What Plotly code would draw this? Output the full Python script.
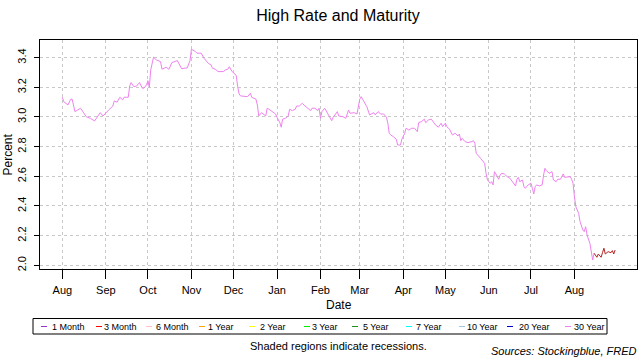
import plotly.graph_objects as go

# ---------------- data ----------------
dates_30y = [
    "2018-08-01", "2018-08-02", "2018-08-05", "2018-08-07", "2018-08-08", "2018-08-10", "2018-08-14",
    "2018-08-16", "2018-08-18", "2018-08-21", "2018-08-24", "2018-08-28", "2018-08-30",
    "2018-09-03", "2018-09-06", "2018-09-07", "2018-09-09", "2018-09-11", "2018-09-13", "2018-09-14",
    "2018-09-17", "2018-09-18", "2018-09-19", "2018-09-21", "2018-09-23", "2018-09-25", "2018-09-27",
    "2018-09-28", "2018-09-30",
    "2018-10-01", "2018-10-02", "2018-10-03", "2018-10-05", "2018-10-07", "2018-10-10", "2018-10-11",
    "2018-10-14", "2018-10-16", "2018-10-18", "2018-10-22", "2018-10-23", "2018-10-25", "2018-10-28",
    "2018-10-29", "2018-10-31",
    "2018-11-01", "2018-11-04", "2018-11-05", "2018-11-08", "2018-11-10", "2018-11-13", "2018-11-15",
    "2018-11-16", "2018-11-18", "2018-11-20", "2018-11-24", "2018-11-25", "2018-11-27", "2018-11-28",
    "2018-11-30",
    "2018-12-02", "2018-12-03", "2018-12-04", "2018-12-05", "2018-12-06", "2018-12-09", "2018-12-11",
    "2018-12-13", "2018-12-14", "2018-12-17", "2018-12-18", "2018-12-19", "2018-12-21", "2018-12-24",
    "2018-12-25", "2018-12-26", "2018-12-29", "2018-12-31",
    "2019-01-01", "2019-01-03", "2019-01-04", "2019-01-05", "2019-01-07", "2019-01-09", "2019-01-10",
    "2019-01-12", "2019-01-14", "2019-01-15", "2019-01-17", "2019-01-19", "2019-01-21", "2019-01-23",
    "2019-01-25", "2019-01-26", "2019-01-28", "2019-01-30", "2019-01-31",
    "2019-02-01", "2019-02-02", "2019-02-04", "2019-02-06", "2019-02-07", "2019-02-09", "2019-02-10",
    "2019-02-12", "2019-02-13", "2019-02-14", "2019-02-17", "2019-02-19", "2019-02-21", "2019-02-22",
    "2019-02-25", "2019-02-27", "2019-02-28",
    "2019-03-01", "2019-03-02", "2019-03-04", "2019-03-06", "2019-03-08", "2019-03-10", "2019-03-11",
    "2019-03-12", "2019-03-14", "2019-03-16", "2019-03-18", "2019-03-20", "2019-03-21", "2019-03-22",
    "2019-03-23", "2019-03-25", "2019-03-27", "2019-03-28", "2019-03-30", "2019-03-31",
    "2019-04-02", "2019-04-03", "2019-04-05", "2019-04-07", "2019-04-09", "2019-04-11", "2019-04-12",
    "2019-04-14", "2019-04-16", "2019-04-17", "2019-04-19", "2019-04-21", "2019-04-22", "2019-04-24",
    "2019-04-26", "2019-04-28", "2019-04-29",
    "2019-05-01", "2019-05-02", "2019-05-04", "2019-05-06", "2019-05-08", "2019-05-10", "2019-05-11",
    "2019-05-12", "2019-05-13", "2019-05-15", "2019-05-17", "2019-05-20", "2019-05-21", "2019-05-22",
    "2019-05-23", "2019-05-26", "2019-05-29", "2019-05-30", "2019-05-31",
    "2019-06-02", "2019-06-03", "2019-06-04", "2019-06-05", "2019-06-06", "2019-06-08", "2019-06-09",
    "2019-06-10", "2019-06-12", "2019-06-14", "2019-06-16", "2019-06-18", "2019-06-20", "2019-06-21",
    "2019-06-22", "2019-06-23", "2019-06-25", "2019-06-26", "2019-06-27", "2019-06-29",
    "2019-07-01", "2019-07-02", "2019-07-03", "2019-07-04", "2019-07-05", "2019-07-07", "2019-07-09",
    "2019-07-10", "2019-07-11", "2019-07-12", "2019-07-14", "2019-07-16", "2019-07-17", "2019-07-19",
    "2019-07-20", "2019-07-22", "2019-07-24", "2019-07-25", "2019-07-27", "2019-07-29", "2019-07-30",
    "2019-07-31",
    "2019-08-01", "2019-08-02", "2019-08-04", "2019-08-05", "2019-08-07", "2019-08-08", "2019-08-09",
    "2019-08-10", "2019-08-12", "2019-08-13", "2019-08-14", "2019-08-15",
]
rate_30y = [
    3.133, 3.103, 3.081, 3.120, 3.120, 3.036, 3.059, 3.029, 3.002, 2.991, 2.973, 3.029, 3.007,
    3.047, 3.074, 3.108, 3.100, 3.133, 3.115, 3.133, 3.133, 3.209, 3.232, 3.204, 3.209, 3.232, 3.194,
    3.194, 3.216,
    3.245, 3.200, 3.317, 3.403, 3.385, 3.373, 3.322, 3.335, 3.322, 3.366, 3.380, 3.358, 3.326, 3.330,
    3.330, 3.380,
    3.457, 3.440, 3.430, 3.430, 3.396, 3.362, 3.351, 3.329, 3.322, 3.306, 3.306, 3.317, 3.322, 3.339,
    3.306,
    3.290, 3.277, 3.204, 3.155, 3.142, 3.137, 3.137, 3.160, 3.133, 3.120, 3.081, 3.007, 3.029, 3.007,
    3.059, 3.054, 3.036, 3.020,
    2.998, 2.962, 2.931, 2.985, 2.991, 3.007, 3.052, 3.043, 3.052, 3.074, 3.074, 3.092, 3.074, 3.059,
    3.043, 3.059, 3.059, 3.043, 3.059,
    2.991, 3.036, 3.059, 3.029, 3.007, 2.975, 2.998, 3.020, 3.036, 3.007, 3.002, 2.991, 3.047, 3.025,
    3.029, 3.020, 3.070,
    3.120, 3.137, 3.103, 3.070, 3.014, 3.025, 3.029, 3.014, 3.036, 3.020, 3.020, 2.998, 2.958, 2.890,
    2.879, 2.867, 2.850, 2.811, 2.811, 2.850,
    2.890, 2.924, 2.912, 2.924, 2.924, 2.901, 2.962, 2.969, 2.985, 2.962, 2.980, 2.985, 2.969, 2.946,
    2.931, 2.958, 2.935,
    2.958, 2.935, 2.917, 2.879, 2.890, 2.872, 2.885, 2.840, 2.856, 2.834, 2.827, 2.834, 2.840, 2.823,
    2.755, 2.722, 2.688, 2.620, 2.575,
    2.553, 2.564, 2.542, 2.631, 2.616, 2.580, 2.609, 2.620, 2.616, 2.598, 2.587, 2.564, 2.535, 2.580,
    2.593, 2.564, 2.575, 2.530, 2.519, 2.542,
    2.553, 2.519, 2.481, 2.530, 2.542, 2.535, 2.542, 2.609, 2.654, 2.638, 2.620, 2.631, 2.575, 2.564,
    2.580, 2.580, 2.616, 2.593, 2.598, 2.598, 2.580, 2.553,
    2.463, 2.395, 2.350, 2.294, 2.238, 2.227, 2.260, 2.204, 2.148, 2.092, 2.036, 2.081,
]

dates_3m = [
    "2019-08-15", "2019-08-16", "2019-08-17", "2019-08-18", "2019-08-20", "2019-08-21", "2019-08-22",
    "2019-08-23", "2019-08-25", "2019-08-27", "2019-08-28", "2019-08-29", "2019-08-30",
]
rate_3m = [2.081, 2.070, 2.054, 2.076, 2.054, 2.085, 2.115, 2.076, 2.092, 2.085, 2.099, 2.076, 2.103]

month_ticks = ["2018-08-01", "2018-09-01", "2018-10-01", "2018-11-01", "2018-12-01", "2019-01-01",
               "2019-02-01", "2019-03-01", "2019-04-01", "2019-05-01", "2019-06-01", "2019-07-01",
               "2019-08-01"]
month_labels = ["Aug", "Sep", "Oct", "Nov", "Dec", "Jan", "Feb", "Mar", "Apr", "May", "Jun", "Jul", "Aug"]
y_ticks = [2.0, 2.2, 2.4, 2.6, 2.8, 3.0, 3.2, 3.4]
y_labels = ["2.0", "2.2", "2.4", "2.6", "2.8", "3.0", "3.2", "3.4"]

maturities = ["1 Month", "3 Month", "6 Month", "1 Year", "2 Year", "3 Year", "5 Year", "7 Year",
              "10 Year", "20 Year", "30 Year"]
maturity_colors = ["#9A32CD", "#FF0000", "#FFC0CB", "#FFA500", "#FFFF00", "#00EE00", "#228B22",
                   "#00FFFF", "#9AC8E6", "#0000CD", "#EE82EE"]

# ---------------- layout constants (pixels) ----------------
W, H = 640, 360
L, R, T, B = 40, 637, 40, 269
FONT = "Liberation Sans, Arial, sans-serif"


def px_x(p):
    return (p - L) / (R - L)


def px_y(p):
    return (B - p) / (B - T)


fig = go.Figure()
fig.add_trace(go.Scatter(x=dates_30y, y=rate_30y, mode="lines",
                         line=dict(color=maturity_colors[10], width=1), showlegend=False))
fig.add_trace(go.Scatter(x=dates_3m, y=rate_3m, mode="lines",
                         line=dict(color="#B22222", width=1), showlegend=False))

# custom R-style legend
legend_line_x = [41, 96, 146, 199, 249, 304, 352, 406, 459, 507, 565]
legend_text_x = [51, 103, 155, 207, 259, 311, 362, 414.5, 466, 518, 572.5]
legend_y = 326.5
shapes = [dict(type="rect", xref="paper", yref="paper",
               x0=px_x(33), x1=px_x(607), y0=px_y(318.5), y1=px_y(334),
               line=dict(color="black", width=1), fillcolor="rgba(0,0,0,0)")]
annotations = []
for name, col, lx, tx in zip(maturities, maturity_colors, legend_line_x, legend_text_x):
    shapes.append(dict(type="line", xref="paper", yref="paper",
                       x0=px_x(lx), x1=px_x(lx + 6), y0=px_y(legend_y), y1=px_y(legend_y),
                       line=dict(color=col, width=1)))
    annotations.append(dict(text=name, xref="paper", yref="paper", x=px_x(tx), y=px_y(legend_y),
                            xanchor="left", yanchor="middle", showarrow=False, borderpad=0,
                            font=dict(family=FONT, size=9, color="black")))

annotations.append(dict(text="Shaded regions indicate recessions.", xref="paper", yref="paper",
                        x=px_x(338), y=px_y(346), xanchor="center", yanchor="middle",
                        showarrow=False, font=dict(family=FONT, size=11, color="black")))
annotations.append(dict(text="<i>Sources: Stockingblue, FRED</i>", xref="paper", yref="paper",
                        x=px_x(638), y=px_y(351), xanchor="right", yanchor="middle",
                        showarrow=False, borderpad=0, font=dict(family=FONT, size=11, color="black")))
annotations.append(dict(text="Date", xref="paper", yref="paper", x=0.5, y=px_y(305),
                        xanchor="center", yanchor="middle", showarrow=False,
                        font=dict(family=FONT, size=12, color="black")))
annotations.append(dict(text="Percent", xref="paper", yref="paper", x=px_x(7.5), y=px_y(155),
                        xanchor="center", yanchor="middle", showarrow=False, textangle=-90,
                        font=dict(family=FONT, size=12, color="black")))

fig.update_layout(
    width=W, height=H,
    margin=dict(l=L, r=W - R, t=T, b=H - B, pad=0),
    paper_bgcolor="white", plot_bgcolor="white",
    title=dict(text="High Rate and Maturity", x=px_x(338), xref="paper", xanchor="center",
               y=1 - 15 / H, yref="container", yanchor="middle",
               font=dict(family=FONT, size=16, color="black")),
    font=dict(family=FONT, size=11, color="black"),
    showlegend=False,
    hovermode=False,
    shapes=shapes,
    annotations=annotations,
    xaxis=dict(type="date", range=["2018-07-16 02:00", "2019-09-14 14:00"],
               tickmode="array", tickvals=month_ticks, ticktext=month_labels,
               ticks="outside", ticklen=9, tickwidth=1, tickcolor="black",
               showline=True, linecolor="black", linewidth=1, mirror=True,
               showgrid=True, gridcolor="#C8C8C8", griddash="dot", gridwidth=1,
               zeroline=False, tickfont=dict(family=FONT, size=11, color="black"),
               ticklabelstandoff=2),
    yaxis=dict(range=[1.975, 3.519], tickmode="array", tickvals=y_ticks, ticktext=y_labels,
               ticks="outside", ticklen=5, tickwidth=1, tickcolor="black", tickangle=-90,
               showline=True, linecolor="black", linewidth=1, mirror=True,
               showgrid=True, gridcolor="#C8C8C8", griddash="dot", gridwidth=1,
               zeroline=False, tickfont=dict(family=FONT, size=11, color="black"),
               ticklabelstandoff=4),
)

fig.write_html(
    "out.html",
    config={"displayModeBar": False, "staticPlot": True},
    post_script="document.body.style.margin='0';document.body.style.padding='0';"
                "document.documentElement.style.overflow='hidden';",
)
